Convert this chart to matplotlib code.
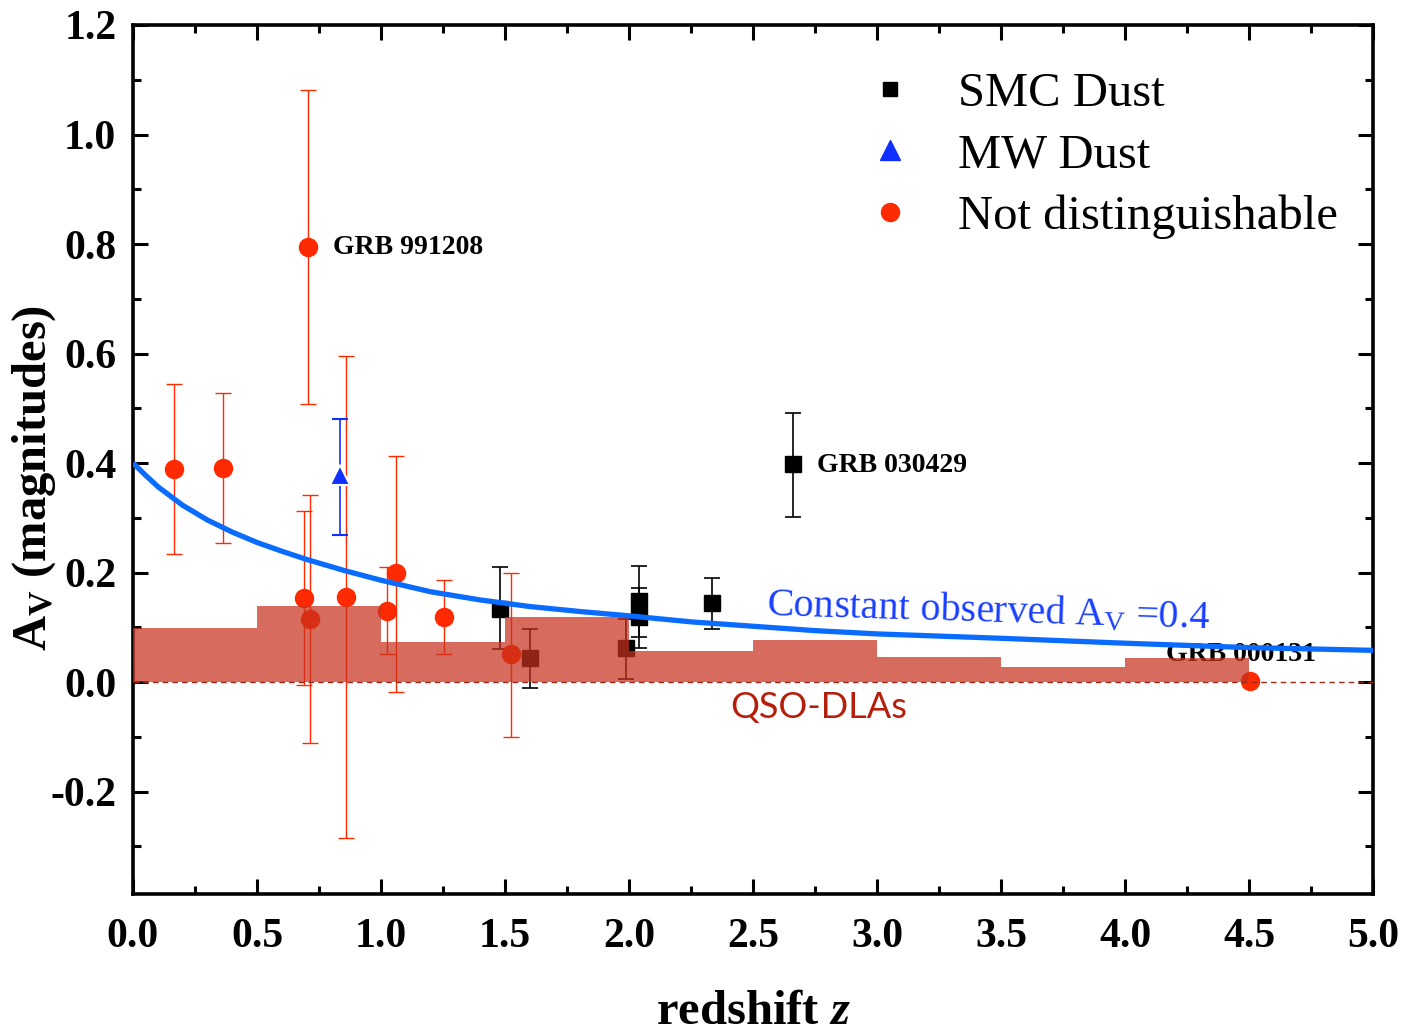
import matplotlib
matplotlib.use('Agg')
import matplotlib.pyplot as plt
from matplotlib.lines import Line2D
from matplotlib.ticker import MultipleLocator, FormatStrFormatter

plt.rcParams['font.family'] = 'Liberation Serif'
plt.rcParams['mathtext.fontset'] = 'custom'
plt.rcParams['mathtext.rm'] = 'Liberation Serif'
plt.rcParams['mathtext.bf'] = 'Liberation Serif:bold'
plt.rcParams['mathtext.it'] = 'Liberation Serif:italic:bold'
plt.rcParams['axes.unicode_minus'] = False

# SMC dust (black squares)
smc_z = [1.478, 1.601, 1.988, 2.042, 2.042, 2.335, 2.66]
smc_av = [0.133, 0.044, 0.062, 0.148, 0.119, 0.144, 0.398]
smc_lo = [0.072, 0.054, 0.057, 0.066, 0.057, 0.047, 0.096]
smc_hi = [0.077, 0.053, 0.054, 0.064, 0.052, 0.046, 0.093]

# MW dust (blue triangle)
mw_z = [0.835]
mw_av = [0.378]
mw_lo = [0.109]
mw_hi = [0.103]

# not distinguishable (red circles)
nd_z = [0.165, 0.363, 0.706, 0.69, 0.714, 0.858, 1.025, 1.06, 1.256, 1.523, 4.504]
nd_av = [0.389, 0.391, 0.795, 0.153, 0.115, 0.155, 0.130, 0.199, 0.119, 0.051, 0.002]
nd_lo = [0.155, 0.137, 0.287, 0.158, 0.226, 0.440, 0.079, 0.217, 0.067, 0.151, 0.0]
nd_hi = [0.155, 0.137, 0.286, 0.159, 0.227, 0.440, 0.080, 0.214, 0.067, 0.149, 0.0]

# QSO-DLA histogram
dla_edges = [0.0, 0.5, 1.0, 1.5, 2.0, 2.5, 3.0, 3.5, 4.0, 4.5]
dla_av = [0.099, 0.139, 0.0725, 0.118, 0.057, 0.077, 0.046, 0.027, 0.044, 0.0]

# constant observed A_V = 0.4 curve
curve_z = [0.0, 0.05, 0.1, 0.2, 0.3, 0.4, 0.5, 0.6, 0.7, 0.85, 1.0, 1.2, 1.4, 1.6,
           1.8, 2.0, 2.25, 2.5, 2.75, 3.0, 3.5, 4.0, 4.5, 5.0]
curve_av = [0.400, 0.378, 0.357, 0.323, 0.296, 0.274, 0.255, 0.239, 0.224, 0.204, 0.186,
            0.165, 0.150, 0.138, 0.129, 0.121, 0.110, 0.102, 0.094, 0.088, 0.080, 0.071,
            0.063, 0.058]

red = '#ff2a00'
blue = '#1030ff'

fig = plt.figure(figsize=(14.08, 10.32), dpi=100)
ax = fig.add_axes([133 / 1408, 1 - 894 / 1032, 1240 / 1408, 869 / 1032])

ax.errorbar(nd_z, nd_av, yerr=[nd_lo, nd_hi], fmt='o', color=red, ecolor=red,
            ms=13, elinewidth=1.0, capsize=6, capthick=1.0, zorder=2)
ax.errorbar(smc_z, smc_av, yerr=[smc_lo, smc_hi], fmt='s', color='black', ecolor='black',
            ms=12, elinewidth=1.2, capsize=6, capthick=1.2, zorder=2)
ax.errorbar(mw_z, mw_av, yerr=[mw_lo, mw_hi], fmt='^', color=blue, ecolor=blue,
            ms=14, elinewidth=1.2, capsize=6, capthick=1.2, mec='white', mew=1.5, zorder=2)

ax.text(4.165, 0.051, 'GRB 000131', fontsize=20, fontweight='bold', va='center', zorder=2.5)

ax.bar(dla_edges, dla_av, width=0.5, align='edge', color='#c8321e', alpha=0.72,
       linewidth=0, zorder=3)
ax.axhline(0, color='#a02818', lw=1.0, ls=(0, (4, 3)), zorder=3.5)

ax.plot(curve_z, curve_av, color='#0a6cff', lw=3.8, zorder=4, solid_capstyle='butt')

ax.text(0.807, 0.793, 'GRB 991208', fontsize=20, fontweight='bold', va='center')
ax.text(2.76, 0.396, 'GRB 030429', fontsize=20, fontweight='bold', va='center')
ax.text(3.45, 0.128, r'Constant observed $\mathrm{A}_\mathrm{V}$ =0.4', fontsize=29,
        color='#1a40ff', ha='center', va='center', rotation=-1.7, zorder=5)
ax.text(2.765, -0.047, 'QSO-DLAs', fontsize=26, color='#b41e0a', family='Lato',
        ha='center', va='center')

ax.set_xlim(0, 5)
ax.set_ylim(-0.387, 1.2)
ax.xaxis.set_major_locator(MultipleLocator(0.5))
ax.xaxis.set_minor_locator(MultipleLocator(0.25))
ax.yaxis.set_major_locator(MultipleLocator(0.2))
ax.yaxis.set_minor_locator(MultipleLocator(0.1))
ax.xaxis.set_major_formatter(FormatStrFormatter('%.1f'))
ax.yaxis.set_major_formatter(FormatStrFormatter('%.1f'))
ax.tick_params(which='both', direction='in', top=True, right=True, width=2.2)
ax.tick_params(which='major', length=11)
ax.tick_params(which='minor', length=6)
ax.tick_params(axis='x', which='major', pad=17, labelsize=30)
ax.tick_params(axis='y', which='major', pad=12, labelsize=30)
for lab in ax.get_xticklabels() + ax.get_yticklabels():
    lab.set_fontweight('bold')
for sp in ax.spines.values():
    sp.set_linewidth(2.6)

ax.set_xlabel(r'redshift $\it{z}$', fontsize=35, fontweight='bold')
ax.xaxis.set_label_coords(0.5, -0.11)
ax.set_ylabel(r'$\mathbf{A}_\mathbf{V}$ (magnitudes)', fontsize=35, fontweight='bold')
ax.yaxis.set_label_coords(-0.0605, 0.479)

handles = [
    Line2D([], [], marker='s', color='black', ls='none', ms=10),
    Line2D([], [], marker='^', color=blue, ls='none', ms=14),
    Line2D([], [], marker='o', color=red, ls='none', ms=13),
]
ax.legend(handles, ['SMC Dust', 'MW Dust', 'Not distinguishable'], loc='upper left',
          bbox_to_anchor=(0.591, 0.946), frameon=False, fontsize=35, handlelength=1.0,
          handletextpad=0.9, labelspacing=0.36, borderpad=0, borderaxespad=0)

fig.savefig('out.png', dpi=100)
